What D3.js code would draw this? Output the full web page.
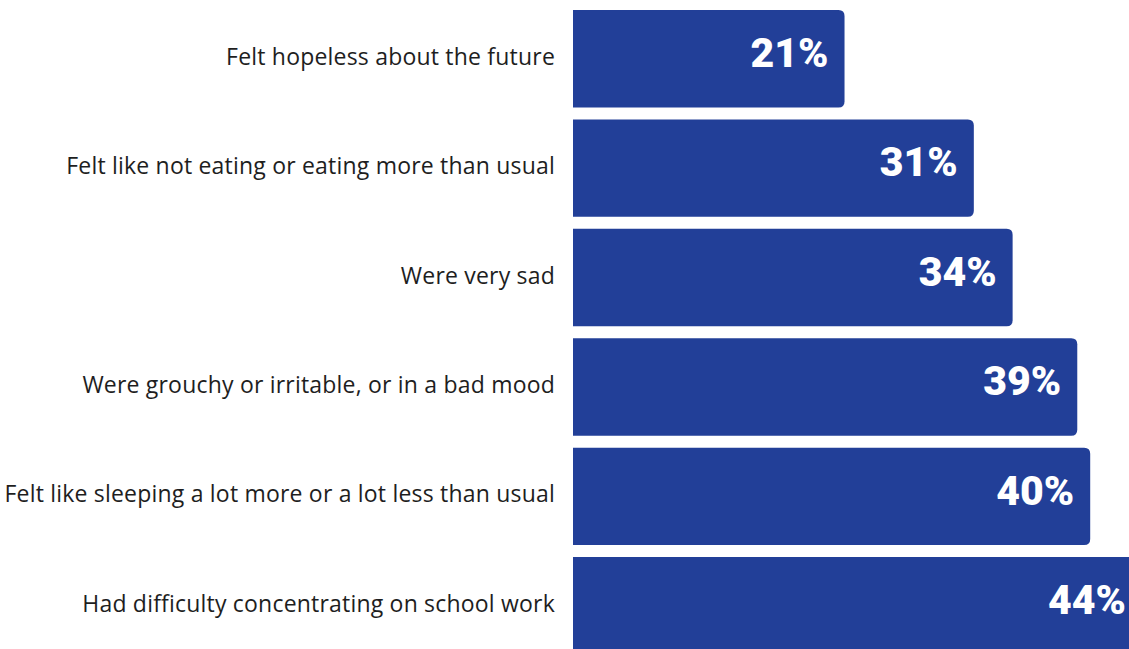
<!DOCTYPE html>
<html>
<head>
<meta charset="utf-8">
<script src="https://cdn.jsdelivr.net/npm/d3@7"></script>
<style>
  html, body { margin: 0; padding: 0; background: #ffffff; }
  svg { display: block; }
</style>
</head>
<body>
<svg id="chart" width="1129" height="649"></svg>
<script>
// Share of students reporting each experience
const categories = [
  "Felt hopeless about the future",
  "Felt like not eating or eating more than usual",
  "Were very sad",
  "Were grouchy or irritable, or in a bad mood",
  "Felt like sleeping a lot more or a lot less than usual",
  "Had difficulty concentrating on school work"
];
const values = [21, 31, 34, 39, 40, 44];
const valueLabels = ["21%", "31%", "34%", "39%", "40%", "44%"];

const svg = d3.select("#chart");
const barColor = "#223f98";

const x = d3.scaleLinear().domain([0, 100]).range([573, 573 + 1293]);
const y = d3.scaleBand().domain(categories).range([10, 654.5]).paddingInner(0.11).paddingOuter(0);

const r = 6;
// Bar path with square left edge and rounded right corners
function barPath(x0, x1, y0, h) {
  const rr = Math.min(r, (x1 - x0) / 2, h / 2);
  return `M${x0},${y0}H${x1 - rr}Q${x1},${y0} ${x1},${y0 + rr}V${y0 + h - rr}Q${x1},${y0 + h} ${x1 - rr},${y0 + h}H${x0}Z`;
}

const rows = categories.map((c, i) => ({ cat: c, v: values[i], label: valueLabels[i] }));

const g = svg.append("g");

g.selectAll("path.bar")
  .data(rows)
  .join("path")
  .attr("class", "bar")
  .attr("fill", barColor)
  .attr("d", d => barPath(x(0), x(d.v), y(d.cat), y.bandwidth()));

g.selectAll("text.val")
  .data(rows)
  .join("text")
  .attr("class", "val")
  .attr("x", d => x(d.v) - 16)
  .attr("y", d => y(d.cat) + 57)
  .attr("text-anchor", "end")
  .attr("fill", "#ffffff")
  .attr("font-family", "Roboto, 'Open Sans', sans-serif")
  .attr("font-weight", 900)
  .attr("font-size", 41)
  .text(d => d.label);

g.selectAll("text.cat")
  .data(rows)
  .join("text")
  .attr("class", "cat")
  .attr("x", x(0) - 18)
  .attr("y", d => y(d.cat) + y.bandwidth() / 2 + 6)
  .attr("text-anchor", "end")
  .attr("fill", "#1e1e1e")
  .attr("font-family", "'Open Sans', Roboto, sans-serif")
  .attr("font-size", 23)
  .attr("letter-spacing", 0.2)
  .text(d => d.cat);
</script>
</body>
</html>
